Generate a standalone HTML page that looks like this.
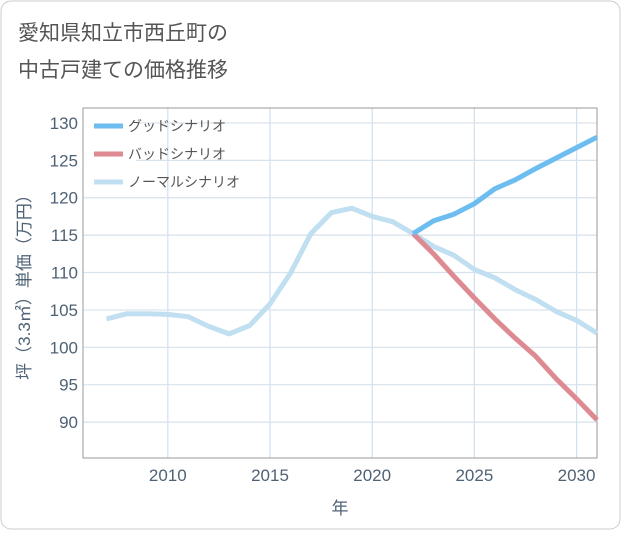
<!DOCTYPE html>
<html><head><meta charset="utf-8"><style>
body{margin:0;background:#fff;font-family:"Liberation Sans","Noto Sans CJK JP",sans-serif;}
#wrap{position:relative;width:621px;height:530px;}
</style></head><body>
<div id="wrap">
<svg id="chart" width="621" height="530" xmlns="http://www.w3.org/2000/svg">
<rect x="1" y="1" width="619" height="528" rx="10" fill="#fff" stroke="#ccc"/>
<text x="18" y="40" font-size="21" fill="#555">愛知県知立市西丘町の</text>
<text x="18" y="77" font-size="21" fill="#555">中古戸建ての価格推移</text>
<g id="grid"></g>
<g id="axes"></g>
<g id="series"></g>
<g id="legend"></g>
<text x="340" y="514" font-size="17" fill="#4f6275" text-anchor="middle">年</text>
<text transform="translate(30,283) rotate(-90)" font-size="17" fill="#4f6275" text-anchor="middle">坪（3.3㎡）単価（万円）</text>
</svg>
</div>
<script>
const years=[2007,2008,2009,2010,2011,2012,2013,2014,2015,2016,2017,2018,2019,2020,2021,2022,2023,2024,2025,2026,2027,2028,2029,2030,2031];
const normalValues=[103.8,104.5,104.5,104.4,104.1,102.8,101.8,102.9,105.8,109.9,115.2,118.0,118.6,117.5,116.8,115.2,113.5,112.3,110.4,109.3,107.7,106.4,104.8,103.6,101.9];
const futureYears=[2022,2023,2024,2025,2026,2027,2028,2029,2030,2031];
const goodValues=[115.2,116.9,117.8,119.2,121.2,122.4,123.9,125.3,126.7,128.1];
const badValues=[115.2,112.5,109.5,106.6,103.8,101.2,98.8,95.8,93.1,90.3];
const xTicks=[2010,2015,2020,2025,2030];
const yTicks=[90,95,100,105,110,115,120,125,130];
const L=83,R=597,T=108,B=458;
const X0=2005.85,X1=2031,Y0=85.2,Y1=132;
const xs=v=>L+(v-X0)/(X1-X0)*(R-L);
const ys=v=>B-(v-Y0)/(Y1-Y0)*(B-T);
const NS="http://www.w3.org/2000/svg";
function mk(tag,attrs,parent){const e=document.createElementNS(NS,tag);for(const k in attrs)e.setAttribute(k,attrs[k]);parent.appendChild(e);return e;}
const grid=document.getElementById('grid'),axes=document.getElementById('axes'),ser=document.getElementById('series'),leg=document.getElementById('legend');
xTicks.forEach(t=>{
 const l=mk('line',{x1:xs(t),x2:xs(t),y1:T,y2:B,stroke:'#cfe0ef','stroke-width':1.2},grid);
 
 
 const tx=mk('text',{x:xs(t),y:B+23,'font-size':17,fill:'#4f6275','text-anchor':'middle'},axes);
 tx.textContent=t;
 
 
});
yTicks.forEach(t=>{
 const l=mk('line',{x1:L,x2:R,y1:ys(t),y2:ys(t),stroke:'#d6e2ec','stroke-width':1.2},grid);
 
 
 const tx=mk('text',{x:L-5,y:ys(t)+6,'font-size':17,fill:'#4f6275','text-anchor':'end'},axes);
 tx.textContent=t;
 
 
});
const fr=mk('rect',{x:L,y:T,width:R-L,height:B-T,fill:'none',stroke:'#999','stroke-width':1},axes);


function line(xv,yv,color,name){
 const d=xv.map((x,i)=>(i?'L':'M')+xs(x).toFixed(1)+','+ys(yv[i]).toFixed(1)).join('');
 const p=mk('path',{d:d,fill:'none',stroke:color,'stroke-width':5,'stroke-linejoin':'round'},ser);
 
 
}
line(years,normalValues,'#c0dff0','normal-scenario-line');
line(futureYears,badValues,'#de8a92','bad-scenario-line');
line(futureYears,goodValues,'#6dbdf0','good-scenario-line');
const bg=mk('rect',{x:L+1,y:T+1,width:52,height:88,fill:'#fff'},leg);


[['グッドシナリオ','#6dbdf0','legend-good'],['バッドシナリオ','#de8a92','legend-bad'],['ノーマルシナリオ','#c0dff0','legend-normal']].forEach((e,i)=>{
 const y=126+i*28;
 const g=mk('g',{},leg);
 
 
 mk('line',{x1:94,x2:123,y1:y,y2:y,stroke:e[1],'stroke-width':5},g);
 const t=mk('text',{x:128,y:y+5,'font-size':14,fill:'#555'},g);
 t.textContent=e[0];
});
</script>
</body></html>
